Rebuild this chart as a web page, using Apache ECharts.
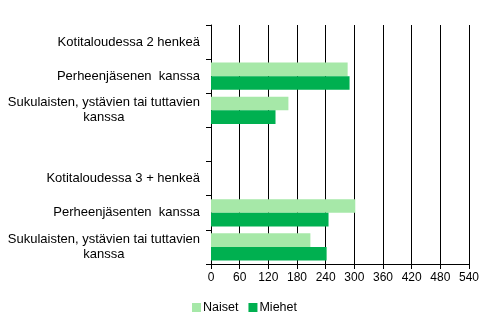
<!DOCTYPE html>
<html><head><meta charset="utf-8">
<script src="https://cdn.jsdelivr.net/npm/echarts@6/dist/echarts.min.js"></script>
<style>html,body{margin:0;padding:0;background:#fff}#c{width:489px;height:329px}</style>
</head><body><div id="c"></div>
<script>
const categories = [
  "Kotitaloudessa 2 henkeä",
  "Perheenjäsenen  kanssa",
  "Sukulaisten, ystävien tai tuttavien\nkanssa",
  "",
  "Kotitaloudessa 3 + henkeä",
  "Perheenjäsenten  kanssa",
  "Sukulaisten, ystävien tai tuttavien\nkanssa"
];
const naiset = [null, 286, 162, null, null, 302, 208];
const miehet = [null, 290, 135, null, null, 246, 242];
const xTicks = [0, 60, 120, 180, 240, 300, 360, 420, 480, 540];

const chart = echarts.init(document.getElementById('c'), null, {renderer: 'canvas'});
const font = 'Arial, "Liberation Sans", sans-serif';
const yfs = 13;
chart.setOption({
  animation: false,
  textStyle: {fontFamily: font},
  grid: {left: 211, right: 20, top: 25, bottom: 65, containLabel: false},
  legend: {
    bottom: 10, left: 'center', itemWidth: 9, itemHeight: 9, itemGap: 10,
    icon: 'rect',
    textStyle: {fontFamily: font, fontSize: 12.5, color: '#000', padding: [0, 0, 0, -3]},
    data: ['Naiset', 'Miehet']
  },
  xAxis: {
    type: 'value', min: xTicks[0], max: xTicks[xTicks.length - 1], interval: 60,
    axisLine: {show: true, lineStyle: {color: '#000', width: 1}},
    axisTick: {show: true, length: 5, lineStyle: {color: '#000'}},
    axisLabel: {color: '#000', fontSize: 12, fontFamily: font, margin: 8},
    splitLine: {show: true, lineStyle: {color: '#000', width: 1}}
  },
  yAxis: {
    type: 'category', inverse: true, data: categories,
    axisLine: {show: true, lineStyle: {color: '#000', width: 1}},
    axisTick: {show: true, length: 5, lineStyle: {color: '#000'}},
    axisLabel: {
      color: '#000', fontSize: yfs, fontFamily: font, margin: 11, interval: 0,
      lineHeight: 15,
      formatter: function (v) {
        return v.split('\n').map(s => '{c|' + s + '}').join('\n');
      },
      rich: {c: {align: 'center', fontSize: yfs, fontFamily: font, color: '#000', lineHeight: 15}}
    },
    splitLine: {show: false}
  },
  series: [
    {name: 'Naiset', type: 'bar', data: naiset, barGap: '0%', barCategoryGap: '20%',
     itemStyle: {color: '#A6E8A8'}},
    {name: 'Miehet', type: 'bar', data: miehet, barGap: '0%', barCategoryGap: '20%',
     itemStyle: {color: '#00B050'}}
  ]
});
</script></body></html>
